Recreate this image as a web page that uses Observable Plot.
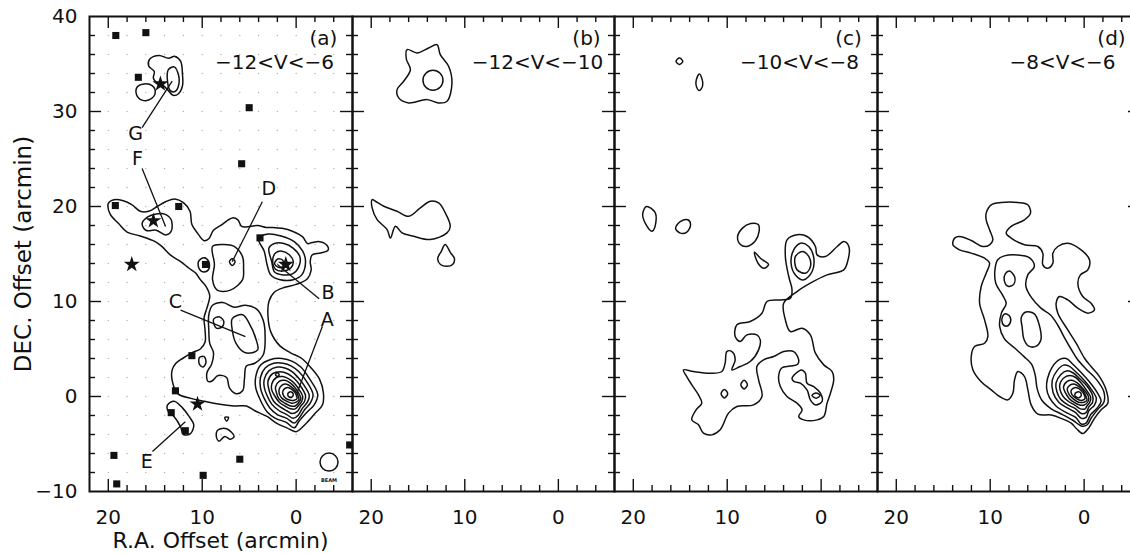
<!DOCTYPE html>
<html><head><meta charset="utf-8">
<script src="https://cdn.jsdelivr.net/npm/d3@7"></script>
<script src="https://cdn.jsdelivr.net/npm/@observablehq/plot@0.6"></script>
<style>
html,body{margin:0;padding:0;background:#fff;}
#row{display:flex;width:1130px;height:553px;overflow:hidden;}
#row svg{flex:none;overflow:visible;}
</style>
</head><body><div id="row"></div>
<script>
// ---- axes / ticks ----
const xMajor = [20, 10, 0];
const xMinor = [18, 16, 14, 12, 8, 6, 4, 2, -2, -4];
const yMajor = [0, 10, 20, 30];
const yMinor = [-8,-6,-4,-2,2,4,6,8,12,14,16,18,22,24,26,28,32,34,36,38];
const yLabels = [-10, 0, 10, 20, 30, 40];
const panelTags = ["(a)", "(b)", "(c)", "(d)"];
const velocityRanges = ["\u221212<V<\u22126", "\u221212<V<\u221210", "\u221210<V<\u22128", "\u22128<V<\u22126"];

// sampling grid (panel a)
const gridX = [20,18,16,14,12,10,8,6,4,2,0,-2,-4];
const gridY = [-8,-6,-4,-2,0,2,4,6,8,10,12,14,16,18,20,22,24,26,28,30,32,34,36,38];

// panel a symbols
const squaresA = [[19.2,38.0],[16.0,38.3],[16.8,33.6],[5.0,30.4],[5.8,24.5],[19.25,20.1],[12.5,20.0],[3.85,16.7],[9.65,13.9],[11.1,4.3],[12.85,0.6],[13.3,-1.7],[11.8,-3.6],[19.4,-6.2],[19.1,-9.2],[9.9,-8.3],[6.0,-6.6],[-5.7,-5.1]];
const starsA = [[14.45,32.9],[15.2,18.5],[17.5,13.9],[1.1,13.9],[10.5,-0.8]];
const beamPos = [[-3.5,-6.9]];
const beamLabelPos = [[-3.5,-8.8]];

// labelled sources
const letters = ["A","B","C","D","E","F","G"];
const letterXY = [[-3.3,8.1],[-3.4,10.9],[12.85,10.0],[2.9,21.8],[15.9,-6.9],[16.9,25.0],[17.1,27.6]];
const leaderFrom = [[-2.8,7.4],[-2.45,10.3],[12.3,9.1],[3.6,20.5],[15.3,-5.8],[16.4,24.0],[16.4,28.3]];
const leaderTo = [[-0.1,0.4],[2.0,13.9],[5.4,6.3],[6.8,14.2],[11.8,-2.65],[13.9,17.9],[13.2,33.2]];

// ---- contours (R.A. offset, DEC offset in arcmin) ----
const contoursA = [
 [[15.6,35.5],[14.6,35.9],[13.6,35.6],[12.9,35.8],[12.3,35.3],[12.1,33.9],[12.1,32.7],[12.5,31.9],[13.1,31.7],[13.6,32.2],[14.1,32.7],[14.8,33.0],[15.2,33.5],[15.1,34.2],[15.7,34.8]],
 [[13.6,34.4],[13.0,34.7],[12.6,34.1],[12.5,32.8],[12.9,32.1],[13.4,32.2],[13.7,33.2]],
 [[16.9,32.6],[16.2,32.9],[15.3,32.7],[15.0,32.0],[15.5,31.3],[16.4,31.2],[17.0,31.8]],
 [[20.0,20.3],[19.4,20.7],[18.4,20.6],[17.5,20.2],[16.6,19.5],[15.7,19.5],[14.8,20.0],[13.9,20.5],[12.9,20.8],[12.0,20.4],[11.3,19.5],[11.1,18.1],[10.5,17.2],[9.8,16.4],[9.3,16.6],[8.8,17.5],[7.9,18.1],[6.8,18.8],[6.2,18.6],[5.8,17.9],[4.9,17.9],[4.1,18.0],[3.2,17.8],[2.5,17.8],[1.5,17.7],[0.4,17.4],[-0.7,16.8],[-1.2,16.1],[-1.7,16.2],[-2.5,16.3],[-3.3,15.9],[-3.4,15.4],[-2.6,15.1],[-1.7,14.9],[-1.5,14.2],[-1.6,13.3],[-1.2,12.4],[0.0,11.8],[1.2,11.5],[2.3,11.0],[2.9,10.0],[3.0,8.5],[2.7,6.8],[1.7,5.3],[0.6,4.6],[-0.6,4.0],[-1.6,3.0],[-2.5,1.8],[-2.9,0.4],[-2.8,-0.9],[-2.0,-1.8],[-1.0,-2.9],[0.0,-3.7],[1.0,-3.3],[2.1,-2.8],[3.1,-2.1],[4.4,-1.5],[5.3,-1.0],[6.6,-1.0],[8.3,-0.8],[9.8,-0.5],[11.2,-0.2],[12.6,0.3],[13.2,1.7],[13.2,2.8],[12.8,3.5],[12.1,4.0],[11.1,4.6],[10.2,5.0],[9.7,5.7],[9.7,7.0],[9.8,8.3],[9.5,9.3],[9.2,10.6],[9.6,11.6],[10.2,12.3],[10.7,13.0],[11.4,13.5],[12.3,14.2],[13.4,14.9],[14.3,15.8],[15.0,16.3],[16.6,16.9],[18.0,17.3],[18.9,18.2],[19.8,19.2]],
 [[16.4,18.2],[15.8,18.9],[14.9,19.2],[14.0,19.2],[13.3,18.6],[13.3,17.4],[13.9,17.0],[14.9,17.5],[16.0,17.5]],
 [[10.4,14.2],[9.8,14.6],[9.3,14.2],[9.3,13.4],[9.8,13.1],[10.3,13.4]],
 [[8.9,15.8],[7.7,16.0],[6.6,15.8],[5.7,14.7],[5.6,13.5],[5.7,12.3],[7.0,11.2],[8.4,11.2],[8.9,12.3],[8.7,13.9]],
 [[7.1,14.2],[6.8,14.5],[6.5,14.2],[6.8,13.8]],
 [[4.0,16.6],[3.4,15.3],[3.1,13.9],[2.7,12.8],[1.7,12.3],[0.3,12.3],[-0.6,12.8],[-1.0,14.2],[-0.7,15.3],[0.2,16.3],[1.6,16.9],[3.0,17.1]],
 [[2.9,15.6],[2.6,14.2],[2.3,13.1],[1.4,12.8],[0.4,12.9],[-0.3,13.7],[-0.4,14.7],[0.3,15.6],[1.3,16.1],[2.3,16.1]],
 [[2.5,14.3],[2.2,13.4],[1.4,13.2],[0.6,13.5],[0.3,14.2],[0.7,14.9],[1.5,15.3],[2.2,15.1]],
 [[2.3,14.0],[1.9,13.6],[1.4,13.7],[1.4,14.3],[1.9,14.5]],
 [[8.9,9.6],[7.8,9.9],[6.6,9.4],[5.4,9.6],[4.2,9.2],[3.5,8.0],[3.3,6.2],[3.5,4.4],[4.4,3.5],[5.3,3.2],[5.5,1.9],[5.7,0.6],[6.4,0.3],[7.1,0.9],[7.4,2.0],[8.3,2.2],[9.0,1.6],[9.4,1.6],[9.5,2.5],[9.0,3.4],[8.8,4.6],[9.2,5.6],[9.3,7.0],[9.3,8.6]],
 [[6.8,8.2],[5.7,8.6],[5.0,7.7],[4.3,6.1],[4.1,4.9],[5.4,4.6],[6.4,5.6],[6.8,7.0]],
 [[8.8,8.1],[8.2,8.4],[7.7,7.9],[7.9,7.3],[8.5,7.2]],
 [[10.3,4.1],[9.8,4.2],[9.6,3.6],[9.9,3.1],[10.3,3.4]],
 [[4.3,2.1],[3.8,3.3],[2.7,3.9],[1.5,4.0],[0.4,3.7],[-0.5,3.1],[-1.4,1.9],[-2.3,0.2],[-1.9,-0.9],[-1.2,-1.6],[-0.3,-2.6],[0.2,-3.3],[1.1,-2.7],[2.2,-2.3],[3.1,-1.6],[3.8,-0.4],[4.3,0.9]],
 [[3.8,2.0],[3.3,3.0],[2.4,3.5],[1.4,3.5],[0.5,3.2],[-0.3,2.6],[-1.1,1.6],[-1.8,0.2],[-1.5,-0.7],[-0.9,-1.4],[-0.3,-2.3],[0.2,-2.8],[1.0,-2.3],[2.0,-1.9],[2.8,-1.2],[3.4,-0.2],[3.8,0.9]],
 [[3.4,1.8],[2.9,2.7],[2.0,3.1],[1.2,3.0],[0.4,2.6],[-0.3,1.9],[-0.9,1.1],[-1.4,0.1],[-1.2,-0.6],[-0.7,-1.2],[-0.2,-2.0],[0.3,-2.3],[1.0,-1.9],[1.8,-1.5],[2.6,-0.8],[3.1,0.1],[3.4,1.0]],
 [[3.0,1.6],[2.5,2.4],[1.7,2.6],[0.9,2.4],[0.2,1.9],[-0.4,1.2],[-1.0,0.1],[-0.9,-0.5],[-0.5,-1.0],[-0.1,-1.6],[0.4,-1.8],[1.0,-1.5],[1.7,-1.1],[2.4,-0.5],[2.8,0.4]],
 [[2.6,1.3],[2.1,2.0],[1.4,2.1],[0.7,1.8],[0.1,1.3],[-0.4,0.6],[-0.7,0.0],[-0.6,-0.5],[-0.3,-0.9],[0.1,-1.3],[0.6,-1.3],[1.2,-1.0],[1.8,-0.6],[2.3,0.1],[2.6,0.7]],
 [[2.2,1.0],[1.8,1.6],[1.2,1.7],[0.6,1.4],[0.1,0.9],[-0.3,0.3],[-0.5,-0.2],[-0.3,-0.6],[0.1,-1.0],[0.6,-1.0],[1.2,-0.7],[1.8,-0.3],[2.1,0.4]],
 [[1.8,0.8],[1.5,1.2],[1.0,1.3],[0.5,1.0],[0.1,0.6],[-0.2,0.1],[-0.3,-0.3],[0.0,-0.6],[0.5,-0.7],[1.0,-0.5],[1.5,-0.2],[1.8,0.3]],
 [[1.4,0.6],[1.1,0.9],[0.7,0.9],[0.3,0.6],[0.0,0.2],[-0.1,-0.2],[0.2,-0.4],[0.6,-0.4],[1.1,-0.2],[1.4,0.2]],
 [[0.9,0.2],[0.75,0.45],[0.45,0.45],[0.3,0.2],[0.45,-0.05],[0.75,-0.05]],
 [[2.2,2.3],[2.0,2.5],[1.8,2.3],[2.0,2.1]],
 [[13.7,-0.9],[13.0,-0.5],[12.1,-1.2],[11.4,-2.1],[10.9,-3.0],[11.25,-3.9],[12.0,-4.0],[12.3,-3.2],[13.0,-2.1],[13.6,-1.6]],
 [[8.3,-3.5],[7.4,-3.4],[6.6,-4.2],[7.0,-4.5],[7.6,-4.2],[8.2,-4.7],[8.5,-4.2]],
 [[7.6,-2.2],[7.2,-2.2],[7.4,-2.6]]
];

const contoursB = [
 [[16.17,36.52],[15.1,36.17],[13.86,36.69],[12.97,37.04],[12.62,35.99],[11.73,34.76],[11.37,33.01],[11.9,31.08],[12.79,30.9],[14.04,31.25],[16.0,30.9],[17.06,31.43],[17.24,32.31],[16.53,33.18],[15.81,34.41],[16.24,35.5]],
 [[14.47,33.29],[14.16,34.03],[13.4,34.34],[12.64,34.03],[12.33,33.29],[12.64,32.55],[13.4,32.24],[14.16,32.55]],
 [[19.9,20.73],[19.55,20.55],[18.66,20.03],[17.24,19.5],[15.99,18.97],[14.75,19.85],[13.68,20.55],[12.79,20.38],[12.08,19.32],[11.55,17.92],[11.9,17.22],[13.68,16.52],[15.46,16.87],[16.7,17.22],[17.41,17.92],[17.95,16.69],[18.3,17.57],[19.37,18.62],[19.9,19.85]],
 [[12.1,16.0],[11.5,15.1],[11.1,14.5],[11.3,13.9],[11.9,13.7],[12.6,13.9],[12.9,14.5],[12.5,15.3]]
];

const contoursC = [
 [[15.45,35.29],[15.09,35.64],[14.73,35.29],[15.09,34.94]],
 [[12.96,33.96],[12.65,33.3],[12.62,32.7],[12.96,32.2],[13.3,32.7],[13.3,33.3]],
 [[18.6,20.0],[19.0,19.2],[18.7,18.2],[18.0,17.4],[17.6,18.3],[17.7,19.4]],
 [[15.5,17.7],[15.0,18.4],[14.2,18.6],[13.9,18.1],[14.3,17.3],[15.0,17.2]],
 [[8.9,16.8],[8.4,17.7],[7.5,18.2],[6.7,18.1],[6.6,17.4],[7.0,16.4],[7.9,15.8],[8.6,16.0]],
 [[7.1,15.2],[6.4,14.5],[5.6,13.9],[6.1,13.5],[6.7,14.0]],
 [[3.63,16.49],[2.56,17.02],[1.5,16.84],[0.61,15.79],[0.43,14.91],[-0.46,14.74],[-1.71,15.79],[-2.42,16.31],[-2.95,15.79],[-2.77,14.03],[-2.41,13.33],[-0.63,12.8],[1.15,11.93],[2.57,11.05],[3.99,9.82],[3.81,8.07],[3.28,6.84],[2.03,7.19],[1.15,6.49],[0.61,4.56],[-0.28,3.33],[-1.17,2.63],[-1.34,1.75],[-0.99,0.35],[-0.63,-0.7],[-0.28,-2.11],[0.43,-2.46],[1.86,-2.46],[2.39,-2.11],[2.03,-1.4],[2.57,-0.7],[3.64,0.0],[4.35,1.05],[4.53,2.1],[4.2,3.0],[3.3,3.2],[2.5,3.4],[2.39,3.86],[2.92,4.73],[3.99,4.73],[5.06,4.21],[6.13,3.86],[6.84,3.16],[6.66,1.75],[6.3,0.0],[7.19,-0.88],[8.97,-1.05],[9.86,-1.75],[10.75,-3.51],[11.64,-4.04],[12.53,-3.86],[13.06,-2.98],[13.77,-2.46],[13.31,-1.4],[12.71,-0.7],[13.06,0.17],[13.77,1.23],[14.31,2.1],[14.66,2.8],[13.6,2.63],[11.82,2.45],[10.57,2.63],[10.22,3.51],[10.04,4.73],[9.5,4.73],[9.15,3.86],[9.5,2.8],[8.62,3.16],[7.55,3.68],[6.66,4.91],[6.48,5.96],[6.84,6.49],[7.9,6.49],[8.62,5.79],[9.15,6.31],[8.97,7.54],[7.55,7.89],[6.3,8.77],[5.77,10.0],[4.35,10.17],[3.27,10.35],[3.1,11.23],[3.45,12.63],[3.81,14.74]],
 [[2.92,15.44],[2.2,16.14],[1.32,15.79],[0.78,14.56],[0.96,13.16],[1.85,12.28],[2.74,12.8],[3.2,14.03]],
 [[2.74,14.74],[2.03,15.26],[1.32,14.74],[1.14,13.68],[1.67,12.98],[2.56,13.33],[2.8,14.03]],
 [[3.1,1.93],[2.1,2.8],[1.68,2.45],[1.5,1.4],[0.79,1.05],[0.08,0.35],[-0.1,-0.53],[0.61,-0.88],[1.15,-0.35],[1.5,0.7],[2.21,1.4],[2.92,1.6]],
 [[0.97,0.1],[0.54,0.38],[0.11,0.1],[0.54,-0.18]],
 [[10.65,0.3],[10.3,0.75],[9.95,0.3],[10.3,-0.15]],
 [[8.55,1.25],[8.2,1.7],[7.85,1.25],[8.2,0.8]]
];

const contoursD = [
 [[10.43,19.3],[9.89,20.18],[8.83,20.42],[7.06,20.42],[6.0,20.18],[5.71,19.3],[6.35,18.6],[7.77,17.9],[8.3,17.2],[7.77,16.67],[6.35,15.97],[4.93,15.79],[4.4,15.09],[4.4,13.86],[3.87,13.51],[3.33,14.04],[3.33,15.09],[2.8,15.79],[1.74,16.14],[0.32,15.44],[-0.57,14.39],[-0.39,13.33],[0.4,12.8],[0.67,11.93],[0.14,10.52],[-0.74,9.82],[-1.1,9.12],[-0.39,8.77],[0.67,9.3],[1.74,10.17],[2.62,10.52],[2.98,9.82],[2.8,8.77],[1.74,7.01],[0.85,5.61],[-0.04,4.03],[-0.74,3.15],[-1.63,2.1],[-2.34,0.7],[-2.52,-0.7],[-1.81,-1.4],[-1.1,-2.3],[-0.5,-3.3],[0.14,-3.9],[0.8,-3.4],[1.38,-2.8],[2.45,-2.3],[3.51,-1.95],[4.93,-1.85],[5.64,-0.88],[5.99,0.7],[6.35,2.1],[7.06,2.63],[7.41,1.75],[7.59,0.35],[8.12,-0.35],[9.01,0.0],[9.89,0.7],[10.96,1.56],[11.84,2.8],[12.02,4.21],[11.67,5.26],[10.6,5.61],[10.25,6.31],[10.6,8.07],[11.13,9.82],[10.96,11.58],[10.43,12.98],[10.07,14.04],[10.6,14.56],[12.02,15.09],[13.26,15.44],[13.97,15.97],[13.79,16.67],[13.26,16.84],[12.02,16.42],[10.78,15.79],[10.07,15.97],[9.72,16.49],[10.07,17.55],[10.43,18.6]],
 [[9.2,14.4],[8.5,14.8],[7.1,14.9],[5.8,14.6],[5.3,13.7],[6.0,12.8],[6.2,11.6],[5.6,10.4],[4.6,9.3],[3.6,8.6],[2.8,7.5],[2.1,6.2],[1.4,5.0],[0.7,3.9],[-0.3,2.8],[-1.3,1.8],[-2.1,0.5],[-2.1,-0.6],[-1.5,-1.3],[-0.8,-2.2],[-0.3,-3.0],[0.3,-3.1],[1.2,-2.5],[2.3,-1.9],[3.5,-1.3],[4.5,-0.4],[5.0,0.8],[5.2,2.2],[5.6,3.4],[6.4,4.2],[7.4,5.1],[8.5,6.1],[9.0,7.4],[8.8,8.8],[8.3,9.8],[8.7,10.7],[9.4,11.9],[9.5,13.3]],
 [[7.95,13.2],[7.4,12.6],[7.5,11.8],[8.1,11.6],[8.5,12.2],[8.4,12.9]],
 [[8.4,8.7],[7.9,8.4],[7.9,7.7],[8.3,7.4],[8.7,7.7],[8.7,8.4]],
 [[6.2,8.9],[5.3,8.7],[4.8,7.6],[4.6,6.0],[5.1,5.3],[5.9,5.3],[6.4,6.0],[6.6,7.3],[6.7,8.3]],
 [[3.9,1.9],[3.4,3.1],[2.6,3.9],[1.9,4.0],[1.2,3.4],[0.3,2.5],[-0.6,1.5],[-1.4,0.4],[-1.8,-0.5],[-1.4,-1.2],[-0.7,-1.9],[-0.2,-2.8],[0.3,-2.9],[0.9,-2.2],[1.9,-1.7],[3.0,-1.0],[3.7,-0.1],[4.0,0.9]],
 [[3.4,1.7],[2.9,2.7],[2.2,3.3],[1.6,3.2],[0.9,2.6],[0.0,1.7],[-0.8,0.7],[-1.3,-0.2],[-1.1,-0.9],[-0.5,-1.5],[-0.2,-2.2],[0.3,-2.3],[0.9,-1.7],[1.8,-1.2],[2.7,-0.6],[3.3,0.4]],
 [[3.0,1.4],[2.5,2.3],[1.8,2.7],[1.2,2.5],[0.5,1.9],[-0.3,1.1],[-0.9,0.1],[-0.9,-0.6],[-0.5,-1.1],[-0.2,-1.7],[0.3,-1.8],[0.9,-1.3],[1.7,-0.9],[2.5,-0.3],[2.9,0.5]],
 [[2.6,1.2],[2.1,2.0],[1.5,2.2],[0.9,2.0],[0.3,1.4],[-0.3,0.6],[-0.7,-0.1],[-0.6,-0.6],[-0.3,-1.0],[-0.1,-1.3],[0.4,-1.3],[1.0,-0.9],[1.7,-0.5],[2.3,0.1]],
 [[2.2,1.0],[1.8,1.6],[1.3,1.7],[0.7,1.4],[0.2,0.9],[-0.3,0.3],[-0.5,-0.2],[-0.3,-0.7],[0.0,-0.9],[0.5,-0.9],[1.1,-0.6],[1.6,-0.2],[2.0,0.4]],
 [[1.8,0.8],[1.5,1.2],[1.0,1.3],[0.5,1.0],[0.1,0.6],[-0.2,0.0],[-0.3,-0.4],[0.0,-0.6],[0.6,-0.6],[1.1,-0.3],[1.6,0.2]],
 [[1.4,0.6],[1.1,0.9],[0.7,0.9],[0.3,0.6],[0.0,0.2],[-0.1,-0.2],[0.2,-0.4],[0.6,-0.35],[1.0,-0.1],[1.3,0.2]],
 [[1.0,0.2],[0.8,0.45],[0.45,0.45],[0.3,0.15],[0.5,-0.1],[0.85,-0.05]]
];

const contourSets = [contoursA, contoursB, contoursC, contoursD];

// ---- build panels ----
const H = 553, MT = 16, MB = 62;
const widths = [352, 262, 263, 263];
const FONT = "'DejaVu Sans', sans-serif";

function panel(i) {
  const first = i === 0;
  const ml = first ? 89 : 0;
  const W = widths[i];
  const iw = W - ml, ih = H - MT - MB;
  const rows = contourSets[i].flatMap((c, k) => c.map(([x, y]) => ({x, y, id: k})));
  const marks = [];
  if (first) {
    const grid = gridX.flatMap(x => gridY.map(y => ({x, y})));
    marks.push(Plot.dot(grid, {x: "x", y: "y", r: 0.7, fill: "#b0b0b0", stroke: null, clip: true}));
  }
  marks.push(Plot.line(rows, {x: "x", y: "y", z: "id", curve: "catmull-rom-closed", stroke: "#111", strokeWidth: 1.5, clip: true}));
  if (first) {
    marks.push(Plot.dot(squaresA, {x: d => d[0], y: d => d[1], symbol: "square", r: 4, fill: "#111", clip: true}));
    marks.push(Plot.dot(starsA, {x: d => d[0], y: d => d[1], symbol: "star", r: 5, fill: "#111", clip: true}));
    marks.push(Plot.dot(beamPos, {x: d => d[0], y: d => d[1], r: 9, stroke: "#111", strokeWidth: 1.5, fill: "none"}));
    marks.push(Plot.text(["BEAM"], {x: () => beamLabelPos[0][0], y: () => beamLabelPos[0][1], fontSize: 5, fontWeight: "bold"}));
    marks.push(Plot.link(letters.map((l, k) => ({x1: leaderFrom[k][0], y1: leaderFrom[k][1], x2: leaderTo[k][0], y2: leaderTo[k][1]})),
      {x1: "x1", y1: "y1", x2: "x2", y2: "y2", stroke: "#111", strokeWidth: 1.3}));
    marks.push(Plot.text(letters.map((l, k) => ({t: l, x: letterXY[k][0], y: letterXY[k][1]})),
      {x: "x", y: "y", text: "t", fontSize: 19, fill: "#111"}));
  }
  // inward ticks on all four sides
  marks.push(
    Plot.tickX(xMinor, {x: d => d, insetTop: ih - 6, strokeWidth: 1.4}),
    Plot.tickX(xMajor, {x: d => d, insetTop: ih - 12, strokeWidth: 1.4}),
    Plot.tickX(xMinor, {x: d => d, insetBottom: ih - 6, strokeWidth: 1.4}),
    Plot.tickX(xMajor, {x: d => d, insetBottom: ih - 12, strokeWidth: 1.4}),
    Plot.tickY(yMinor, {y: d => d, insetRight: iw - 6, strokeWidth: 1.4}),
    Plot.tickY(yMajor, {y: d => d, insetRight: iw - 12, strokeWidth: 1.4}),
    Plot.tickY(yMinor, {y: d => d, insetLeft: iw - 6, strokeWidth: 1.4}),
    Plot.tickY(yMajor, {y: d => d, insetLeft: iw - 12, strokeWidth: 1.4}),
    Plot.frame({stroke: "#111", strokeWidth: 2}),
    Plot.axisX(xMajor, {tickSize: 0, tickPadding: 18, label: null}),
    Plot.text([panelTags[i]], {frameAnchor: "top-left", dx: 234, dy: 22, textAnchor: "middle", lineAnchor: "middle"}),
    Plot.text([velocityRanges[i]], {frameAnchor: "top-left", dx: 185, dy: 46.5, textAnchor: "middle", lineAnchor: "middle"})
  );
  if (first) {
    marks.push(
      Plot.axisY(yLabels, {tickSize: 0, tickPadding: 12, label: null}),
      Plot.text(["DEC. Offset (arcmin)"], {frameAnchor: "left", dx: -66, rotate: -90, textAnchor: "middle", lineAnchor: "middle", fontSize: 23}),
      Plot.text(["R.A. Offset (arcmin)"], {frameAnchor: "bottom-left", dx: 131, dy: 49, textAnchor: "middle", lineAnchor: "middle", fontSize: 22})
    );
  }
  return Plot.plot({
    width: W, height: H,
    marginLeft: ml, marginRight: 0, marginTop: MT, marginBottom: MB,
    x: {domain: [22, -6], axis: null},
    y: {domain: [-10, 40], axis: null},
    style: {fontSize: "20px", fontFamily: FONT, color: "#111", background: "transparent", overflow: "visible"},
    marks
  });
}

const row = document.getElementById("row");
for (let i = 0; i < 4; i++) row.appendChild(panel(i));
</script>
</body></html>
